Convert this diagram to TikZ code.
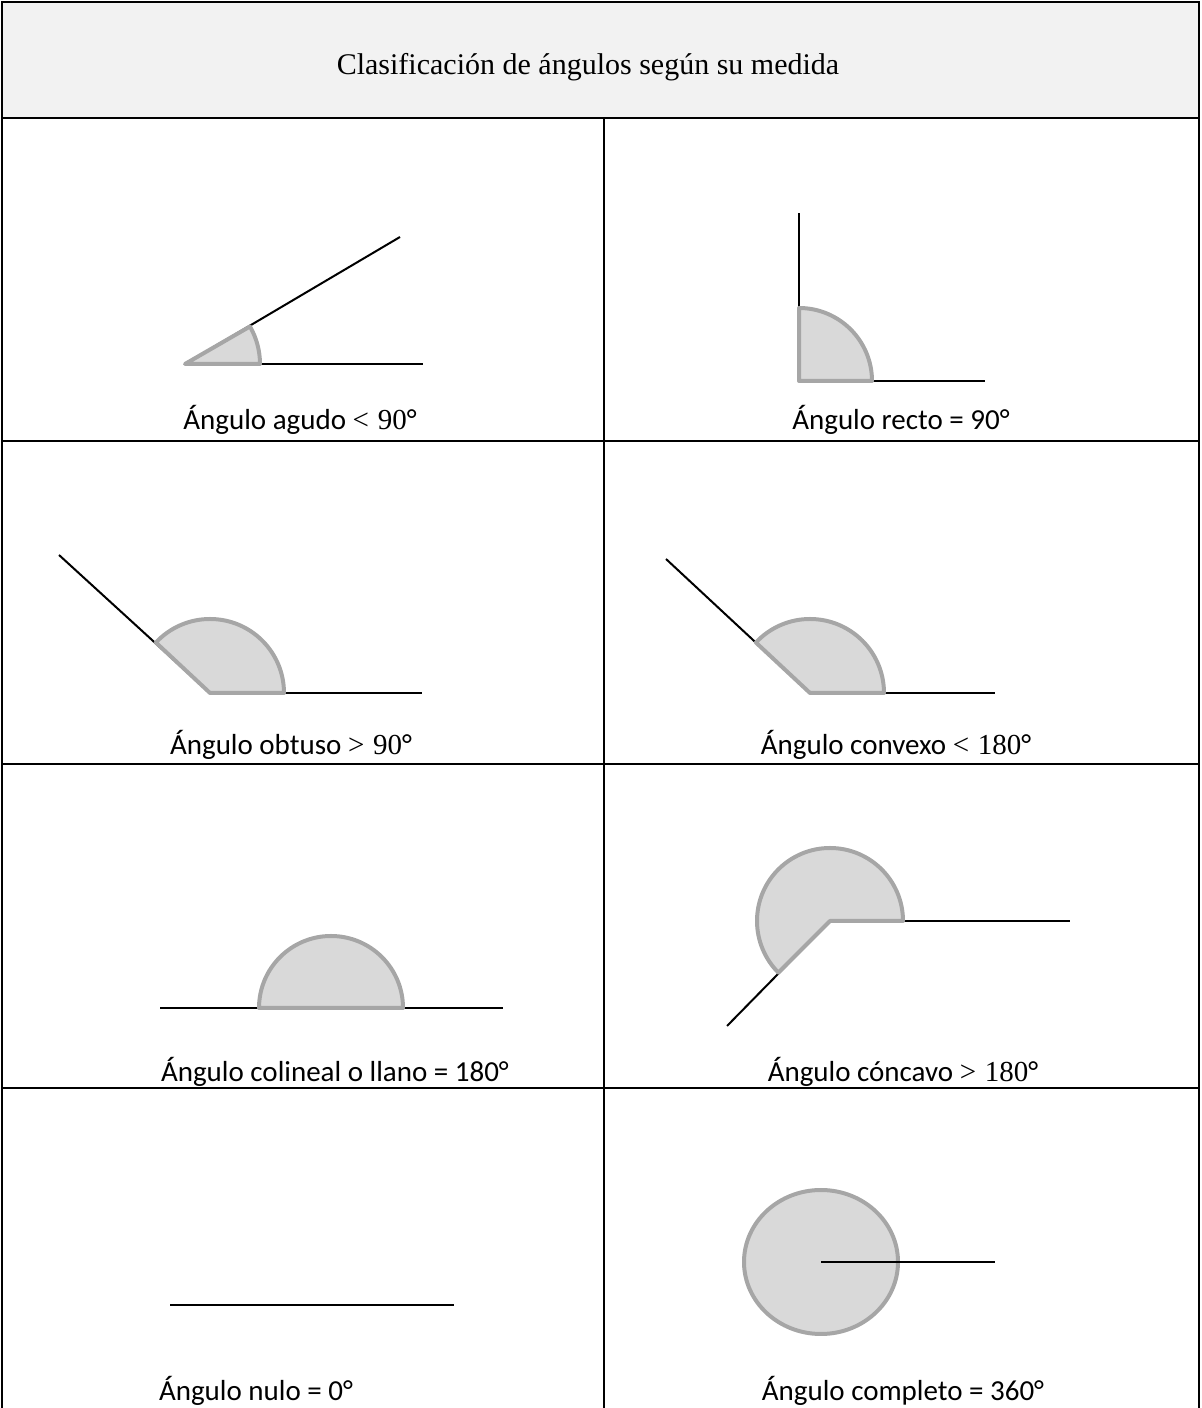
\documentclass[tikz,border=0pt]{standalone}
\usepackage{fontspec}
\setmainfont{Liberation Serif}
\newfontfamily\lblfont{Carlito}
\newfontfamily\relfont{Liberation Serif}
\usepackage{tikz}
\usetikzlibrary{positioning}
\definecolor{headgray}{HTML}{F2F2F2}
\definecolor{sectfill}{HTML}{D9D9D9}
\definecolor{sectline}{HTML}{A6A6A6}

\begin{document}
\begin{tikzpicture}[
  x=0.5pt, y=0.5pt,
  grid/.style={draw=black, line width=1.3pt},
  ray/.style={draw=black, line width=1pt},
  sector/.style={fill=sectfill, draw=sectline, line width=2pt, line join=round},
  lbl/.style={font=\lblfont\fontsize{14.5}{17}\selectfont, inner sep=0pt},
  title/.style={font=\fontsize{15}{18}\selectfont, inner sep=0pt}
]
\useasboundingbox (0,0) rectangle (1201,1408);

% table (bottom edge is cut off)
\fill[headgray] (2,1290) rectangle (1199,1406);
\draw[grid] (2,0) -- (2,1406) -- (1199,1406) -- (1199,0);
\draw[grid] (2,1290) -- (1199,1290);
\draw[grid] (604,1290) -- (604,0);
\foreach \yy in {967,644,320}
  \draw[grid] (2,\yy) -- (1199,\yy);

\node[title] (head) at (588,1341) {Clasificación de ángulos según su medida};

% agudo
\coordinate (agV) at (185,1044);
\coordinate (agH) at (423,1044);
\coordinate (agS) at (400,1171);
\draw[ray] (agV) -- (agH);
\draw[ray] (agV) -- (agS);
\filldraw[sector] (agV) -- ++(0:75) arc[start angle=0, end angle=30, radius=75] -- cycle;
\node[lbl] (agudo) at (300,988) {Ángulo agudo {\relfont <\hspace{0.3em}90}°};

% recto
\coordinate (reV) at (799,1027);
\coordinate (reH) at (985,1027);
\coordinate (reS) at (799,1195);
\draw[ray] (reV) -- (reH);
\draw[ray] (reV) -- (reS);
\filldraw[sector] (reV) -- ++(0:73) arc[start angle=0, end angle=90, radius=73] -- cycle;
\node[lbl] (recto) at (901,988) {Ángulo recto = 90°};

% obtuso
\coordinate (obV) at (210,715);
\coordinate (obH) at (422,715);
\coordinate (obS) at (59,853);
\draw[ray] (obV) -- (obH);
\draw[ray] (obV) -- (obS);
\filldraw[sector] (obV) -- ++(0:74) arc[start angle=0, end angle=137, radius=74] -- cycle;
\node[lbl] (obtuso) at (291,663) {Ángulo obtuso {\relfont >\hspace{0.3em}90}°};

% convexo
\coordinate (cvV) at (810,715);
\coordinate (cvH) at (995,715);
\coordinate (cvS) at (666,849);
\draw[ray] (cvV) -- (cvH);
\draw[ray] (cvV) -- (cvS);
\filldraw[sector] (cvV) -- ++(0:74) arc[start angle=0, end angle=137, radius=74] -- cycle;
\node[lbl] (convexo) at (896,663) {Ángulo convexo {\relfont <\hspace{0.3em}180}°};

% colineal
\coordinate (coV) at (331,400);
\coordinate (coL) at (160,400);
\coordinate (coR) at (503,400);
\draw[ray] (coL) -- (coR);
\filldraw[sector] (coV) -- ++(0:72) arc[start angle=0, end angle=180, radius=72] -- cycle;
\node[lbl] (colineal) at (335,336) {Ángulo colineal o llano = 180°};

% concavo
\coordinate (ccV) at (830,487);
\coordinate (ccH) at (1070,487);
\coordinate (ccS) at (727,382);
\draw[ray] (ccV) -- (ccH);
\draw[ray] (ccV) -- (ccS);
\filldraw[sector] (ccV) -- ++(0:73) arc[start angle=0, end angle=225, radius=73] -- cycle;
\node[lbl] (concavo) at (903,336) {Ángulo cóncavo {\relfont >\hspace{0.3em}180}°};

% nulo
\coordinate (nuL) at (170,103);
\coordinate (nuR) at (454,103);
\draw[ray] (nuL) -- (nuR);
\node[lbl, anchor=base] (nulo) at (256,8) {Ángulo nulo = 0°};

% completo
\coordinate (cpV) at (821,146);
\coordinate (cpH) at (995,146);
\filldraw[sector] (cpV) ellipse[x radius=77, y radius=72];
\draw[ray] (cpV) -- (cpH);
\node[lbl, anchor=base] (completo) at (903,8) {Ángulo completo = 360°};
\end{tikzpicture}
\end{document}
